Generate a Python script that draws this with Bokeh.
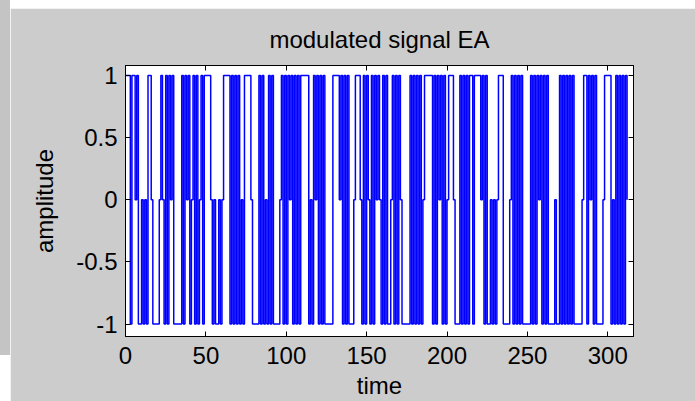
from bokeh.plotting import figure
from bokeh.models import LinearAxis, FixedTicker, Range1d, Spacer
from bokeh.layouts import row, column
from bokeh.embed import file_html
from bokeh.resources import INLINE

title_text = "modulated signal EA"
x_label = "time"
y_label = "amplitude"

# signal levels, one symbol per unit of time: '+' = 1, '-' = -1, '0' = 0
levels_t000 = "+++-++0+--0-0-++0----0+0-+-+0+-----+-+0+-0+-+-0+-+"
levels_t050 = "+++0-0--0-0++++-+-+-+-0-++++0----+-+-0-+-+----0+-+-+0+-"
levels_t105 = "+-+-+++++-0-+0+-+-+-----++++0+-+-+---0+++0-+-+0-+-+0+0-"
levels_t160 = "+-+--0+-+-+0-----+-+-+-+-0+++++-+-+0+-+-0+++0---+-+-+-+"
levels_t215 = "+-++++0+-+--0-0-0+++----0+-+-+-+-----+-+-+0+-+-+----0--"
levels_t270 = "+-+-+-+-+-----0++-+0+-+----0++++-0-+-+-+-+"
end_level = 0

x_ticks = [0, 50, 100, 150, 200, 250, 300]
y_ticks = [-1, -0.5, 0, 0.5, 1]
y_tick_labels = ["-1", "-0.5", "0", "0.5", "1"]
x_limits = (0, 316)
y_limits = (-1.1, 1.08)

symbol_value = {"+": 1, "-": -1, "0": 0}
seq = levels_t000 + levels_t050 + levels_t105 + levels_t160 + levels_t215 + levels_t270
xs, ys = [], []
for k, s in enumerate(seq):
    v = symbol_value[s]
    xs += [k, k + 1]
    ys += [v, v]
xs.append(len(seq))
ys.append(end_level)

FONT = "Liberation Sans"
FIG_GRAY = "#cccccc"

p = figure(width=685, height=393, output_backend="svg", toolbar_location=None,
           x_range=Range1d(*x_limits), y_range=Range1d(*y_limits),
           min_border_left=115, min_border_right=62, min_border_top=57, min_border_bottom=64,
           border_fill_color=FIG_GRAY, background_fill_color="white",
           outline_line_color="black")
p.grid.visible = False

p.line(xs, ys, line_color="#0000ff", line_width=1.5)

p.title.text = title_text
p.title.align = "center"
p.title.text_font = FONT
p.title.text_font_size = "24px"
p.title.text_font_style = "normal"
p.title.text_color = "black"
p.title.standoff = 25

p.xaxis.axis_label = x_label
p.yaxis.axis_label = y_label
p.xaxis.ticker = FixedTicker(ticks=x_ticks)
p.yaxis.ticker = FixedTicker(ticks=y_ticks)
p.yaxis.major_label_overrides = {t: l for t, l in zip(y_ticks, y_tick_labels)}

for ax in [p.xaxis[0], p.yaxis[0]]:
    ax.major_tick_in = 5
    ax.major_tick_out = 0
    ax.minor_tick_line_color = None
    ax.axis_line_color = "black"
    ax.major_tick_line_color = "black"
    ax.major_label_text_font = FONT
    ax.major_label_text_font_size = "24px"
    ax.major_label_text_color = "black"
    ax.axis_label_text_font = FONT
    ax.axis_label_text_font_size = "24px"
    ax.axis_label_text_font_style = "normal"
    ax.axis_label_text_color = "black"
p.xaxis.major_label_standoff = 10
p.xaxis.axis_label_standoff = 5
p.yaxis.major_label_standoff = 8
p.yaxis.axis_label_standoff = 15

top_axis = LinearAxis(ticker=FixedTicker(ticks=x_ticks), major_label_text_font_size="1px",
                      major_label_text_color=None,
                      major_label_standoff=0, major_tick_in=5, major_tick_out=0,
                      minor_tick_line_color=None, axis_line_color="black")
right_axis = LinearAxis(ticker=FixedTicker(ticks=y_ticks), major_label_text_font_size="1px",
                        major_label_text_color=None,
                        major_label_standoff=0, major_tick_in=5, major_tick_out=0,
                        minor_tick_line_color=None, axis_line_color="black")
p.add_layout(top_axis, "above")
p.add_layout(right_axis, "right")

left_strip = column(Spacer(width=10, height=355, styles={"background-color": "#c4c4c4"}),
                    Spacer(width=10, height=46))
top_strip = Spacer(width=685, height=8)
root = row(left_strip, column(top_strip, p))

open("out.html", "w").write(file_html(root, INLINE))
